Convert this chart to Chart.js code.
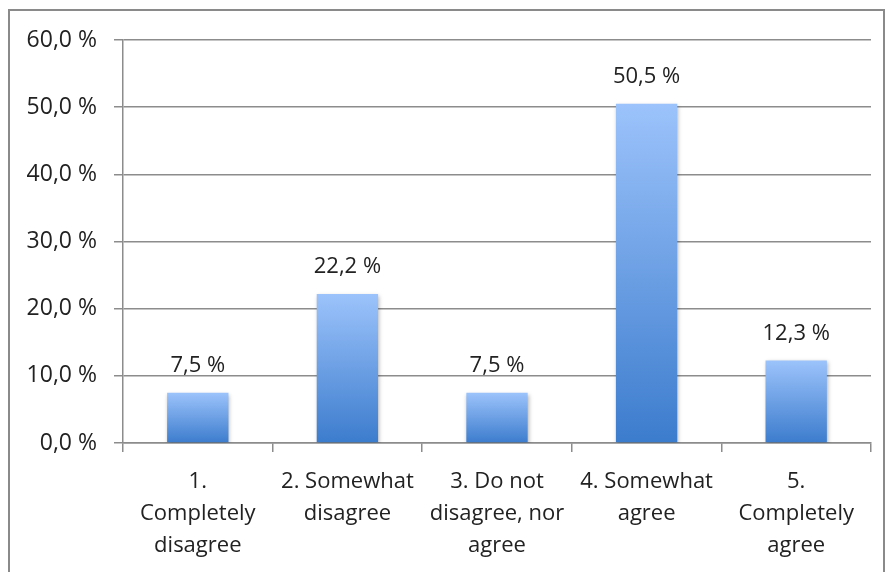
<!DOCTYPE html>
<html>
<head>
<meta charset="utf-8">
<script src="https://cdn.jsdelivr.net/npm/chart.js@4/dist/chart.umd.min.js"></script>
<style>
  html, body { margin: 0; padding: 0; background: #fff; }
  #wrap { position: relative; width: 887px; height: 572px; }
</style>
</head>
<body>
<div id="wrap"><canvas id="myChart" width="887" height="572"></canvas></div>
<script>
const categories = [
    ['1.', 'Completely', 'disagree'],
    ['2. Somewhat', 'disagree'],
    ['3. Do not', 'disagree, nor', 'agree'],
    ['4. Somewhat', 'agree'],
    ['5.', 'Completely', 'agree']
];
const values = [7.5, 22.2, 7.5, 50.5, 12.3];
const yTicks = [0, 10, 20, 30, 40, 50, 60];

const fontFamily = "'Open Sans', sans-serif";
const textColor = '#222222';
const gridColor = '#8c8c8c';

function pct(v, digits) {
    return v.toFixed(digits).replace('.', ',') + ' %';
}

// gradient per bar, light on top, darker at the base
function barGradient(context) {
    const chart = context.chart;
    const yScale = chart.scales.y;
    if (!chart.chartArea || !yScale) return '#6a9de6';
    const top = yScale.getPixelForValue(values[context.dataIndex]);
    const bottom = yScale.getPixelForValue(0);
    const g = chart.ctx.createLinearGradient(0, top, 0, bottom);
    g.addColorStop(0, '#9cc3fb');
    g.addColorStop(1, '#3c7ccd');
    return g;
}

const framePlugin = {
    id: 'frame',
    afterDraw(chart) {
        const ctx = chart.ctx;
        ctx.save();
        ctx.strokeStyle = '#8a8a8a';
        ctx.lineWidth = 2;
        ctx.strokeRect(9, 10, 875, 600);
        ctx.restore();
    }
};

const shadowPlugin = {
    id: 'barShadow',
    beforeDatasetDraw(chart) {
        const ctx = chart.ctx;
        ctx.save();
        ctx.shadowColor = 'rgba(0,0,0,0.3)';
        ctx.shadowBlur = 4;
        ctx.shadowOffsetX = 1;
        ctx.shadowOffsetY = 2;
    },
    afterDatasetDraw(chart) {
        chart.ctx.restore();
    }
};

const valueLabels = {
    id: 'valueLabels',
    afterDatasetsDraw(chart) {
        const ctx = chart.ctx;
        const meta = chart.getDatasetMeta(0);
        ctx.save();
        ctx.font = '22px ' + fontFamily;
        ctx.fillStyle = textColor;
        ctx.textAlign = 'center';
        ctx.textBaseline = 'middle';
        meta.data.forEach((bar, i) => {
            ctx.fillText(pct(values[i], 1), bar.x, bar.y - 27);
        });
        ctx.restore();
    }
};

const ctx = document.getElementById('myChart').getContext('2d');
const myChart = new Chart(ctx, {
    type: 'bar',
    data: {
        labels: categories,
        datasets: [{
            data: values,
            backgroundColor: barGradient,
            borderWidth: 0,
            categoryPercentage: 1,
            barPercentage: 0.41
        }]
    },
    options: {
        responsive: false,
        animation: false,
        events: [],
        layout: { padding: { top: 40, right: 16, left: 0, bottom: 0 } },
        plugins: {
            legend: { display: false },
            tooltip: { enabled: false }
        },
        scales: {
            x: {
                grid: {
                    drawOnChartArea: false,
                    drawTicks: true,
                    tickLength: 9,
                    color: gridColor,
                    lineWidth: 1.5
                },
                border: { display: true, color: gridColor, width: 1.5 },
                ticks: {
                    color: textColor,
                    font: { family: fontFamily, size: 22, lineHeight: 1.45 },
                    padding: 14,
                    maxRotation: 0,
                    autoSkip: false
                },
                afterFit(scale) { scale.height = 572 - 443; }
            },
            y: {
                min: 0,
                max: 60,
                afterBuildTicks(scale) {
                    scale.ticks = yTicks.map(v => ({ value: v }));
                },
                grid: {
                    color: gridColor,
                    lineWidth: 1.5,
                    tickLength: 9
                },
                border: { display: true, color: gridColor, width: 1.5 },
                ticks: {
                    color: textColor,
                    font: { family: fontFamily, size: 23 },
                    padding: 17,
                    callback: v => pct(v, 1)
                },
                afterFit(scale) { scale.width = 123; }
            }
        }
    },
    plugins: [shadowPlugin, valueLabels, framePlugin]
});
</script>
</body>
</html>
